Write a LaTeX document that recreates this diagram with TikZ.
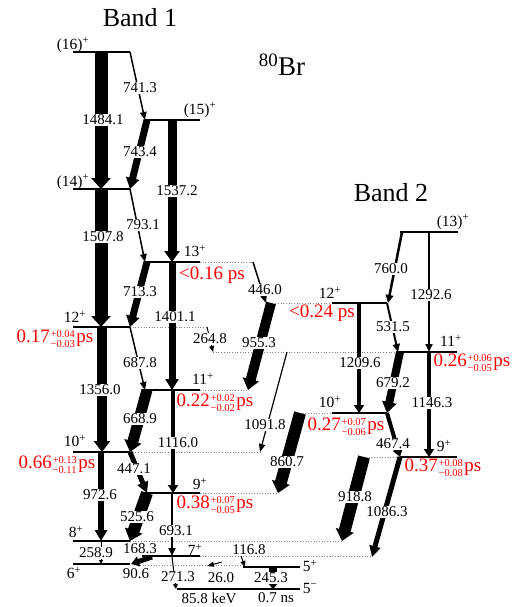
\documentclass[tikz,border=0pt]{standalone}
\usepackage{fontspec}
\setmainfont{Liberation Serif}
\usetikzlibrary{arrows.meta}
\pgfdeclarelayer{bg}
\pgfsetlayers{bg,main}
\tikzset{
  level/.style={line width=2.5pt},
  dotl/.style={gray, dotted, line width=0.7pt},
  glab/.style={fill=white, inner sep=1.2pt, font=\fontsize{15}{15}\selectfont},
  lvl/.style={inner sep=0pt, font=\fontsize{15.5}{15.5}\selectfont},
  redlab/.style={inner sep=0pt, text=red, font=\fontsize{19}{19}\selectfont},
  title/.style={inner sep=0pt, font=\fontsize{26}{26}\selectfont},
}
% transition: [extra opts]{name}{start}{end}{width}{label}{label pos}
\newcommand\gam[7][]{%
  \coordinate (#2a) at (#3);
  \coordinate (#2b) at (#4);
  \pgfmathsetmacro\hw{#5<4?(#5+5):(#5+6)}%
  \pgfmathsetmacro\hl{#5<5?8:11}%
  \begin{pgfonlayer}{bg}
    \draw[line width=#5pt,-{Triangle[width=\hw pt,length=\hl pt]},#1] (#2a) -- (#2b);
  \end{pgfonlayer}
  \node[glab] (#2l) at (#7) {#6};
}
\newcommand\lev[4]{%
  \coordinate (#1L) at (#2,#4);
  \coordinate (#1R) at (#3,#4);
  \draw[level] (#1L) -- (#1R);
}
\newcommand\dotline[4]{%
  \coordinate (#1L) at (#2,#4);
  \coordinate (#1R) at (#3,#4);
  \begin{pgfonlayer}{bg}
    \draw[dotl] (#1L) -- (#1R);
  \end{pgfonlayer}
}
\newcommand\lifet[3]{#1\hspace{0.8pt}{\fontsize{10.5}{10}\selectfont\begin{tabular}{@{}l@{}}+#2\\−#3\end{tabular}}\hspace{1.5pt}ps}
\newcommand\jp[2]{#1\textsuperscript{#2}}
\begin{document}
\begin{tikzpicture}[x=1pt,y=-1pt]
\useasboundingbox (0,0) rectangle (523,607);

% titles
\node[title] (band1) at (140,18) {Band 1};
\node[title] (band2) at (391,193) {Band 2};
\node[inner sep=0pt, font=\fontsize{27}{27}\selectfont] (nuc) at (282,65) {\textsuperscript{80}Br};

% dotted extensions
\dotline{d13}{200}{253}{262}
\dotline{d12}{130}{208}{327}
\dotline{d11}{200}{247}{390}
\dotline{d10}{130}{260}{452}
\dotline{d9}{200}{278}{493}
\dotline{d8}{130}{342}{541}
\dotline{d7}{200}{372}{556}
\dotline{d6}{140}{243}{565}
\dotline{e12}{267}{332}{303}
\dotline{e11}{213}{397}{352}
\dotline{e10}{300}{332}{413}
\dotline{e9}{366}{400}{457}

% levels
\lev{s16}{73}{130}{52}
\lev{s15}{145}{200}{120}
\lev{s14}{73}{130}{189}
\lev{s13}{145}{200}{262}
\lev{s12}{73}{130}{327}
\lev{s11}{145}{200}{390}
\lev{s10}{73}{130}{452}
\lev{s9}{145}{200}{493}
\lev{s8}{73}{130}{541}
\lev{s7}{142}{200}{556}
\lev{s6}{73}{130}{564}
\lev{s5p}{243}{300}{567}
\lev{s5m}{177}{300}{589}
\lev{b13}{400}{458}{232}
\lev{b12}{332}{387}{303}
\lev{b11}{397}{457}{352}
\lev{b10}{332}{387}{413}
\lev{b9}{400}{457}{457}

% band 1 transitions
\gam{g1484}{101,52}{101,189}{13}{1484.1}{103,120}
\gam{g1508}{101,189}{101,327}{13}{1507.8}{103,237}
\gam{g1356}{102,327}{102,452}{10}{1356.0}{100,390}
\gam{g973}{101,452}{101,541}{6}{972.6}{100,495}
\gam[-{Triangle[width=4pt,length=4pt]}]{g259}{101,541}{101,564}{0.8}{258.9}{96,553}
\gam{g741}{130,52}{145,120}{1.5}{741.3}{140,88}
\gam{g743}{147,120}{130,189}{7}{743.4}{140,152}
\gam{g1537}{172,120}{172,262}{9}{1537.2}{177,191}
\gam{g793}{130,189}{145,262}{1.5}{793.1}{143,225}
\gam{g713}{147,262}{130,327}{7}{713.3}{140,292}
\gam{g1401}{172,262}{172,390}{7}{1401.1}{175,317}
\gam{g688}{130,327}{145,390}{1.5}{687.8}{140,363}
\gam[-{Triangle[width=5pt,length=6pt]}]{g265}{207,327}{213,352}{1}{264.8}{210,339}
\gam{g669}{147,390}{130,452}{11}{668.9}{140,419}
\gam{g1116}{173,390}{173,493}{4}{1116.0}{178,443}
\gam{g447}{130,452}{147,493}{5}{447.1}{134,469}
\gam{g526}{147,493}{130,541}{12}{525.6}{137,517}
\gam{g693}{172,493}{172,556}{2}{693.1}{176,531}
\node[glab] (l168) at (140,549) {168.3};
\gam[-{Triangle[width=10pt,length=8pt]}]{g91}{152,557}{131,564}{5}{90.6}{136,574}
\gam[-{Triangle[width=5pt,length=5pt]}]{g271}{172,557}{176,589}{1}{271.3}{178,577}
\gam[-{Triangle[width=5pt,length=7pt]}]{g26}{222,562}{207,566}{1}{26.0}{221,578}
\gam[-{Triangle[width=5pt,length=6pt]}]{g117}{241,556}{245,567}{1}{116.8}{249,550}
\gam[-{Triangle[width=10pt,length=6pt]}]{g245}{273,567}{273,589}{8}{245.3}{271,578}

% linking and band 2 transitions
\gam{g446}{253,262}{266,303}{1.5}{446.0}{265,290}
\gam{g955}{271,303}{248,390}{10}{955.3}{259,343}
\gam{g1092}{287,352}{260,452}{1.2}{1091.8}{265,425}
\gam{g861}{300,413}{278,493}{12}{860.7}{287,462}
\gam{g919}{364,457}{342,541}{12}{918.8}{355,497}
\gam{g1086}{400,457}{372,557}{5}{1086.3}{387,512}
\gam{g760}{402,232}{388,303}{2.5}{760.0}{391,269}
\gam{g1293}{429,232}{429,352}{2}{1292.6}{431,295}
\gam{g1210}{359,303}{359,413}{4}{1209.6}{360,363}
\gam{g532}{387,303}{398,352}{2}{531.5}{393,327}
\gam{g679}{400,352}{387,413}{8}{679.2}{393,383}
\gam{g1146}{429,352}{429,457}{4}{1146.3}{432,403}
\gam{g467}{387,413}{400,457}{4}{467.4}{393,444}

% level labels
\node[lvl] (t16) at (73,45) {\jp{(16)}{+}};
\node[lvl] (t15) at (200,110) {\jp{(15)}{+}};
\node[lvl] (t14) at (73,182) {\jp{(14)}{+}};
\node[lvl] (t13) at (195,251) {\jp{13}{+}};
\node[lvl] (t12) at (75,317) {\jp{12}{+}};
\node[lvl] (t11) at (203,379) {\jp{11}{+}};
\node[lvl] (t10) at (75,441) {\jp{10}{+}};
\node[lvl] (t9) at (200,484) {\jp{9}{+}};
\node[lvl] (t8) at (76,532) {\jp{8}{+}};
\node[lvl] (t7) at (195,550) {\jp{7}{+}};
\node[lvl] (t6) at (74,573) {\jp{6}{+}};
\node[lvl] (t5p) at (310,566) {\jp{5}{+}};
\node[lvl] (t5m) at (310,588) {\jp{5}{−}};
\node[lvl] (u13) at (453,222) {\jp{(13)}{+}};
\node[lvl] (u12) at (330,293) {\jp{12}{+}};
\node[lvl] (u11) at (451,341) {\jp{11}{+}};
\node[lvl] (u10) at (330,402) {\jp{10}{+}};
\node[lvl] (u9) at (444,446) {\jp{9}{+}};

% isomer
\node[glab, inner sep=0pt] (kev) at (209,598) {85.8 keV};
\node[glab, inner sep=0pt] (ns) at (276,598) {0.7 ns};

% lifetimes
\node[redlab] (r13) at (212,275) {<0.16 ps};
\node[redlab] (r12) at (55,340) {\lifet{0.17}{0.04}{0.03}};
\node[redlab] (r11) at (215,404) {\lifet{0.22}{0.02}{0.02}};
\node[redlab] (r10) at (57,466) {\lifet{0.66}{0.13}{0.11}};
\node[redlab] (r9) at (215,506) {\lifet{0.38}{0.07}{0.05}};
\node[redlab] (q12) at (322,313) {<0.24 ps};
\node[redlab] (q11) at (472,364) {\lifet{0.26}{0.06}{0.05}};
\node[redlab] (q10) at (346,428) {\lifet{0.27}{0.07}{0.06}};
\node[redlab] (q9) at (443,469) {\lifet{0.37}{0.08}{0.08}};
\end{tikzpicture}
\end{document}
